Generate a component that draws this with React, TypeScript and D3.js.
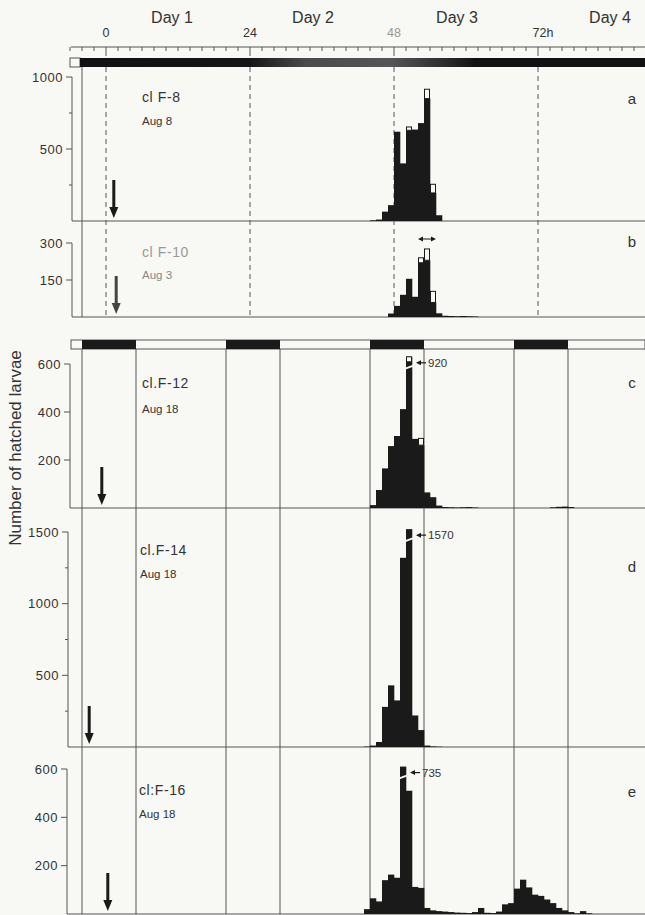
import React from 'react'
import * as d3 from 'd3'

// hatching histograms, five clutches, hour bins
const width = 645
const height = 915

const dayLabels = ['Day 1', 'Day 2', 'Day 3', 'Day 4']
const dayLabelHours = [11, 34.5, 58.5, 84]
const hourLabels = ['0', '24', '48', '72h']
const hourLabelHours = [0, 24, 48, 72]
const darkStarts = [-4, 20, 44, 68]
const darkLength = 9

// a
const aStart = 44
const aCounts = [5, 10, 65, 110, 620, 400, 630, 635, 680, 850, 195, 40]
const aOpen = [0, 0, 0, 0, 0, 0, 23, 0, 0, 65, 60, 0]
// b
const bStart = 47
const bCounts = [14, 45, 90, 155, 82, 220, 230, 59, 15, 5, 4, 3, 4, 3, 2]
const bOpen = [0, 0, 0, 0, 0, 20, 46, 45, 0, 0, 0, 0, 0, 0, 0]
// c
const cStart = 44
const cCounts = [12, 75, 165, 258, 300, 412, 920, 288, 262, 65, 45, 10, 4, 3, 2, 3, 4, 2, 0, 0, 0, 0, 0, 0, 0, 0, 0, 0, 0, 0, 3, 5, 6, 4]
const cOpen = [0, 0, 0, 0, 0, 0, 0, 0, 28]
// d
const dStart = 43
const dCounts = [3, 10, 35, 280, 430, 325, 1320, 1570, 220, 118, 10, 4, 2]
// e
const eStart = 43
const eCounts = [20, 65, 52, 140, 163, 150, 735, 510, 112, 108, 25, 15, 12, 10, 8, 6, 5, 4, 8, 25, 5, 4, 10, 40, 45, 105, 142, 110, 80, 75, 60, 45, 25, 15, 8, 3, 12, 3]

const panels = [
  { id: 'a', start: aStart, counts: aCounts, open: aOpen, yMax: 1000, top: 77, base: 221, axisX: 72, major: [500, 1000], minor: [250, 750], name: 'cl F-8', date: 'Aug 8', nameX: 142, nameY: 102, dateY: 125, letterY: 104, arrowHour: 1.3, cap: null, nameColor: '#333' },
  { id: 'b', start: bStart, counts: bCounts, open: bOpen, yMax: 300, top: 243, base: 317, axisX: 72, major: [150, 300], minor: [], name: 'cl F-10', date: 'Aug 3', nameX: 142, nameY: 257, dateY: 279, letterY: 247, arrowHour: 1.7, cap: null, nameColor: '#999' },
  { id: 'c', start: cStart, counts: cCounts, open: cOpen, yMax: 600, top: 364, base: 508, axisX: 70, major: [200, 400, 600], minor: [], name: 'cl.F-12', date: 'Aug 18', nameX: 142, nameY: 388, dateY: 413, letterY: 388, arrowHour: -0.7, cap: 630, nameColor: '#333' },
  { id: 'd', start: dStart, counts: dCounts, open: [], yMax: 1500, top: 532, base: 747, axisX: 68, major: [500, 1000, 1500], minor: [250, 750, 1250], name: 'cl.F-14', date: 'Aug 18', nameX: 140, nameY: 555, dateY: 578, letterY: 572, arrowHour: -2.8, cap: 1520, nameColor: '#333' },
  { id: 'e', start: eStart, counts: eCounts, open: [], yMax: 600, top: 769, base: 914, axisX: 67, major: [200, 400, 600], minor: [], name: 'cl:F-16', date: 'Aug 18', nameX: 139, nameY: 795, dateY: 818, letterY: 797, arrowHour: 0.3, cap: 610, nameColor: '#333' },
]

const ink = '#1a1a1a'
const lineCol = '#555'
const font = 'Liberation Sans, Arial, sans-serif'

const Arrow = ({ x, y0, y1, color }) => (
  <g>
    <line x1={x} x2={x} y1={y0} y2={y1 - 9} stroke={color} strokeWidth={3} />
    <path d={`M${x - 4.5},${y1 - 11} L${x + 4.5},${y1 - 11} L${x},${y1} Z`} fill={color} />
  </g>
)

const App = () => {
  const x = d3.scaleLinear().domain([0, 72]).range([106, 538])
  const bw = x(1) - x(0)
  const tickHours = d3.range(-6, 92, 2)

  return (
    <svg width={width} height={height} style={{ position: 'absolute', left: 0, top: 0, fontFamily: font }}>
      <defs>
        <linearGradient id='scan' x1='0' x2='1' y1='0' y2='0'>
          <stop offset='0' stopColor='#111' />
          <stop offset='0.3' stopColor='#151515' />
          <stop offset='0.4' stopColor='#4a4a4a' />
          <stop offset='0.55' stopColor='#555' />
          <stop offset='0.65' stopColor='#2a2a2a' />
          <stop offset='0.7' stopColor='#111' />
          <stop offset='1' stopColor='#111' />
        </linearGradient>
      </defs>
      <rect width={width} height={height} fill='#f8f8f4' />

      {/* top time axis */}
      {dayLabels.map((d, i) => (
        <text key={d} x={x(dayLabelHours[i])} y={23} fontSize={16} textAnchor='middle' fill='#333'>{d}</text>
      ))}
      {hourLabels.map((d, i) => (
        <text key={d} x={x(hourLabelHours[i]) + (d.length > 2 ? 5 : 0)} y={37} fontSize={12.5} textAnchor='middle' fill={i === 2 ? '#999' : '#333'}>{d}</text>
      ))}
      <line x1={71} x2={width} y1={47} y2={47} stroke={lineCol} strokeWidth={1} />
      {tickHours.map(h => (
        <line key={h} x1={x(h)} x2={x(h)} y1={47} y2={h % 24 === 0 ? 56 : 51} stroke={lineCol} strokeWidth={1} />
      ))}

      {/* a/b constant darkness bar */}
      <rect x={70} y={58} width={10} height={9} fill='#f8f8f4' stroke={lineCol} />
      <rect x={80} y={58} width={width - 80} height={9} fill='url(#scan)' />
      <line x1={x(-4)} x2={x(-4)} y1={67} y2={317} stroke={lineCol} />
      {hourLabelHours.map(h => (
        <line key={h} x1={x(h)} x2={x(h)} y1={67} y2={317} stroke='#555' strokeDasharray='5,4' />
      ))}

      {/* c-e light/dark bar */}
      <rect x={71} y={340} width={width - 71} height={9} fill='#f8f8f4' stroke={lineCol} />
      {darkStarts.map(h => (
        <g key={h}>
          <rect x={x(h)} y={340} width={x(h + darkLength) - x(h)} height={9} fill={ink} />
          <line x1={x(h)} x2={x(h)} y1={349} y2={914} stroke={lineCol} />
          <line x1={x(h + darkLength)} x2={x(h + darkLength)} y1={349} y2={914} stroke={lineCol} />
        </g>
      ))}

      {panels.map(p => {
        const y = d3.scaleLinear().domain([0, p.yMax]).range([p.base, p.top])
        const peakIdx = p.cap ? p.counts.indexOf(d3.max(p.counts)) : -1
        return (
          <g key={p.id}>
            {/* y axis */}
            <line x1={p.axisX} x2={p.axisX} y1={y(p.yMax)} y2={p.base} stroke={lineCol} />
            <line x1={p.axisX} x2={width} y1={p.base} y2={p.base} stroke={lineCol} />
            {p.major.map(t => (
              <g key={t}>
                <line x1={p.axisX - 6} x2={p.axisX} y1={y(t)} y2={y(t)} stroke={lineCol} />
                <text x={p.axisX - 9} y={y(t)} dy='0.35em' fontSize={13} textAnchor='end' fill='#333' letterSpacing={0.5}>{t}</text>
              </g>
            ))}
            {p.minor.map(t => (
              <line key={t} x1={p.axisX - 3} x2={p.axisX} y1={y(t)} y2={y(t)} stroke={lineCol} />
            ))}

            {/* bars */}
            {p.counts.map((v, i) => {
              if (!v) return null
              const h = p.start + i
              const shown = i === peakIdx ? p.cap : v
              return <rect key={i} x={x(h)} y={y(shown)} width={bw + 0.3} height={p.base - y(shown)} fill={ink} />
            })}
            {p.open.map((o, i) => {
              if (!o) return null
              const h = p.start + i
              const v = p.counts[i]
              return <rect key={'o' + i} x={x(h) + 0.5} y={y(v + o)} width={bw - 1} height={y(v) - y(v + o)} fill='#f8f8f4' stroke={ink} strokeWidth={1} />
            })}

            {/* broken peak bar */}
            {peakIdx >= 0 && (() => {
              const h = p.start + peakIdx
              const topY = y(p.cap)
              const rx = x(h + 1)
              return (
                <g>
                  <path d={`M${x(h) - 1},${topY + 11} L${rx + 1},${topY + 8} L${rx + 1},${topY + 10} L${x(h) - 1},${topY + 13} Z`} fill='#f8f8f4' />
                  {p.id === 'c' && <rect x={x(h) + 0.5} y={topY} width={bw - 1} height={5} fill='#f8f8f4' stroke={ink} />}
                  <line x1={rx + 6} x2={rx + 14} y1={topY + 6} y2={topY + 6} stroke={ink} strokeWidth={1.2} />
                  <path d={`M${rx + 4},${topY + 6} L${rx + 9},${topY + 3.5} L${rx + 9},${topY + 8.5} Z`} fill={ink} />
                  <text x={rx + 16} y={topY + 6} dy='0.35em' fontSize={11.5} fill='#333'>{p.counts[peakIdx]}</text>
                </g>
              )
            })()}

            {/* egg-laying arrow */}
            <Arrow x={x(p.arrowHour)} y0={p.base - 41} y1={p.base - 3} color={p.id === 'b' ? '#444' : ink} />

            {/* labels */}
            <text x={p.nameX} y={p.nameY} fontSize={14} letterSpacing={0.6} fill={p.nameColor}>{p.name}</text>
            <text x={p.nameX} y={p.dateY} fontSize={11.5} fill={p.nameColor === '#333' ? '#333' : '#888'}>{p.date}</text>
            <text x={632} y={p.letterY} fontSize={15} textAnchor='middle' fill='#333'>{p.id}</text>
          </g>
        )
      })}

      {/* b: double arrow above peak */}
      <g stroke={ink} fill={ink}>
        <line x1={x(52) + 4} x2={x(55) - 4} y1={239} y2={239} strokeWidth={1} />
        <path d={`M${x(52)},239 L${x(52) + 5},236.5 L${x(52) + 5},241.5 Z`} stroke='none' />
        <path d={`M${x(55)},239 L${x(55) - 5},236.5 L${x(55) - 5},241.5 Z`} stroke='none' />
      </g>

      <text transform='translate(21,448) rotate(-90)' fontSize={17} textAnchor='middle' fill='#333'>Number of hatched larvae</text>
    </svg>
  )
}

export default App
